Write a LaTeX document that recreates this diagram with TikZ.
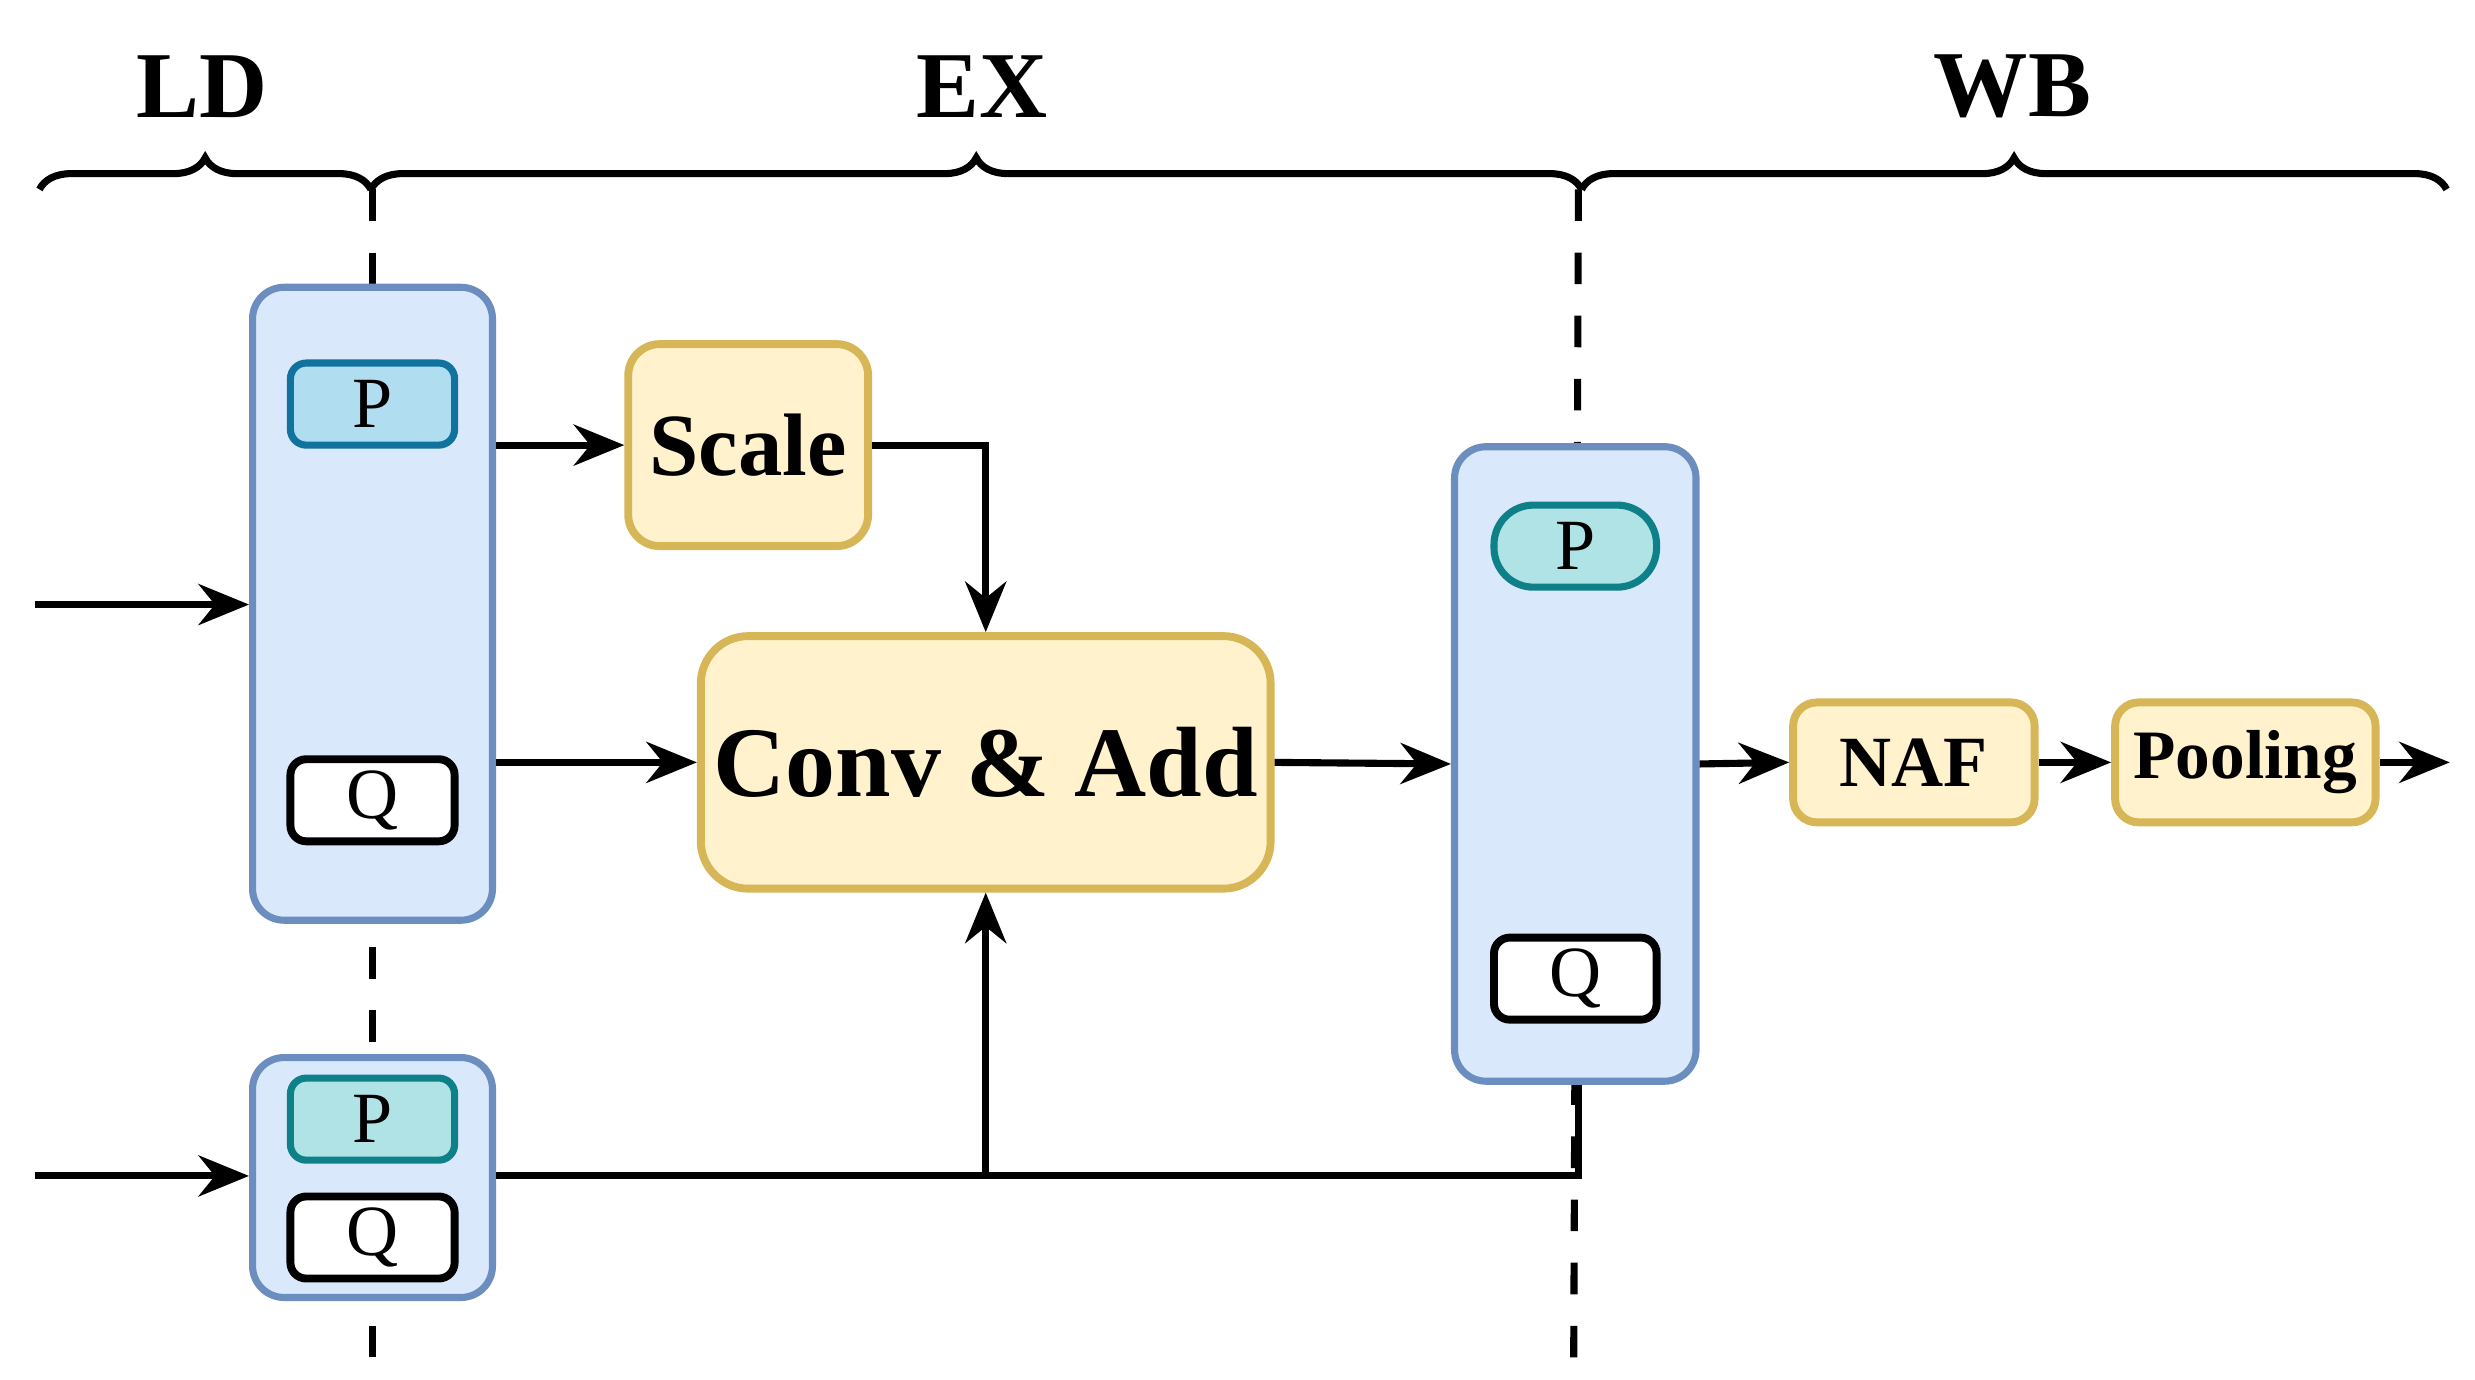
\documentclass[tikz,border=0pt]{standalone}
\usepackage{fontspec}
\setmainfont{Liberation Serif}
\usetikzlibrary{arrows.meta,decorations.pathreplacing}
\definecolor{bfill}{HTML}{DAE8FC}\definecolor{bdraw}{HTML}{6C8EBF}
\definecolor{yfill}{HTML}{FFF2CC}\definecolor{ydraw}{HTML}{D6B656}
\definecolor{pfill}{HTML}{B1DDF0}\definecolor{pdraw}{HTML}{10739E}
\definecolor{tfill}{HTML}{B0E3E6}\definecolor{tdraw}{HTML}{0E8088}
\begin{document}
\begin{tikzpicture}[x=0.1mm,y=-0.1mm,
  ln/.style={line width=0.45mm},
  arr/.style={ln,-{Stealth[length=3.2mm,width=2.6mm]}},
  blk/.style={draw=bdraw,fill=bfill,line width=0.45mm,rounded corners=2mm,inner sep=0pt},
  yb/.style={draw=ydraw,fill=yfill,line width=0.5mm,rounded corners=2mm,inner sep=0pt,font=\bfseries},
  pb/.style={draw=pdraw,fill=pfill,line width=0.45mm,rounded corners=1mm,inner sep=0pt,font=\fontsize{13}{15}\selectfont},
  tp/.style={draw=tdraw,fill=tfill,line width=0.45mm,inner sep=0pt,font=\fontsize{13}{15}\selectfont},
  qb/.style={draw=black,fill=white,line width=0.5mm,rounded corners=1mm,inner sep=0pt,font=\fontsize{13}{15}\selectfont},
  lab/.style={font=\fontsize{17}{20}\selectfont\bfseries},
  dsh/.style={line width=0.45mm,dash pattern=on 2mm off 2mm}]
\useasboundingbox (0,0) rectangle (1568,874);
% braces
\draw[ln,decorate,decoration={brace,amplitude=2mm}] (25,120) -- (235,120);
\draw[ln,decorate,decoration={brace,amplitude=2mm}] (235,120) -- (1002,120);
\draw[ln,decorate,decoration={brace,amplitude=2mm}] (1002,120) -- (1550,120);
\node[lab] (ld) at (128,55) {LD};
\node[lab] (ex) at (622,55) {EX};
\node[lab] (wb) at (1275,55) {WB};
% dashed lines
\coordinate (d1t) at (236,120); \coordinate (d1b) at (236,860);
\coordinate (d2t) at (1000,120); \coordinate (d2b) at (997,860);
\draw[dsh] (d1t) -- (d1b);
\draw[dsh] (d2t) -- (d2b);
% boxes
\node[blk,minimum width=15.2mm,minimum height=40.1mm] (A) at (236,382.5) {};
\node[pb,minimum width=10.4mm,minimum height=5.2mm] (AP) at (236,256) {P};
\node[qb,minimum width=10.4mm,minimum height=5.2mm] (AQ) at (236,507) {Q};
\node[blk,minimum width=15.2mm,minimum height=15.2mm] (B) at (236,746) {};
\node[tp,rounded corners=1mm,minimum width=10.4mm,minimum height=5.2mm] (BP) at (236,709) {P};
\node[qb,minimum width=10.4mm,minimum height=5.2mm] (BQ) at (236,784) {Q};
\node[blk,minimum width=15.3mm,minimum height=40.2mm] (C) at (998,484) {};
\node[tp,rounded corners=2.5mm,minimum width=10.3mm,minimum height=5.2mm] (CP) at (998,346) {P};
\node[qb,minimum width=10.3mm,minimum height=5.2mm] (CQ) at (998,620) {Q};
\node[yb,minimum width=15.2mm,minimum height=12.8mm,font=\fontsize{16}{19}\selectfont\bfseries] (S) at (474,282) {Scale};
\node[yb,rounded corners=3mm,minimum width=36.1mm,minimum height=16mm,font=\fontsize{18}{22}\selectfont\bfseries] (CA) at (624.5,483) {Conv \& Add};
\node[yb,rounded corners=1.5mm,minimum width=15.3mm,minimum height=7.6mm,font=\fontsize{13}{16}\selectfont\bfseries] (N) at (1212.5,483) {NAF};
\node[yb,rounded corners=1.5mm,minimum width=16.5mm,minimum height=7.6mm,font=\fontsize{12.5}{16}\selectfont\bfseries] (PO) at (1422.5,483) {Pooling};
% connectors
\coordinate (in1) at (22,383); \coordinate (in2) at (22,745);
\coordinate (out) at (1552,483);
\draw[arr] (in1) -- (A.west|-in1);
\draw[arr] (in2) -- (B.west|-in2);
\draw[arr] (A.east|-S) -- (S.west);
\draw[arr] (S.east) -| (CA.north);
\draw[arr] (A.east|-CA) -- (CA.west);
\draw[arr] (CA.east) -- (C.west);
\draw[arr] (C.east) -- (N.west);
\draw[arr] (N.east) -- (PO.west);
\draw[arr] (PO.east) -- (out);
\draw[ln] (B.east|-in2) -- (1000,745) -- (C.south-|1000,0);
\draw[arr] (CA.south|-in2) -- (CA.south);
\end{tikzpicture}
\end{document}
